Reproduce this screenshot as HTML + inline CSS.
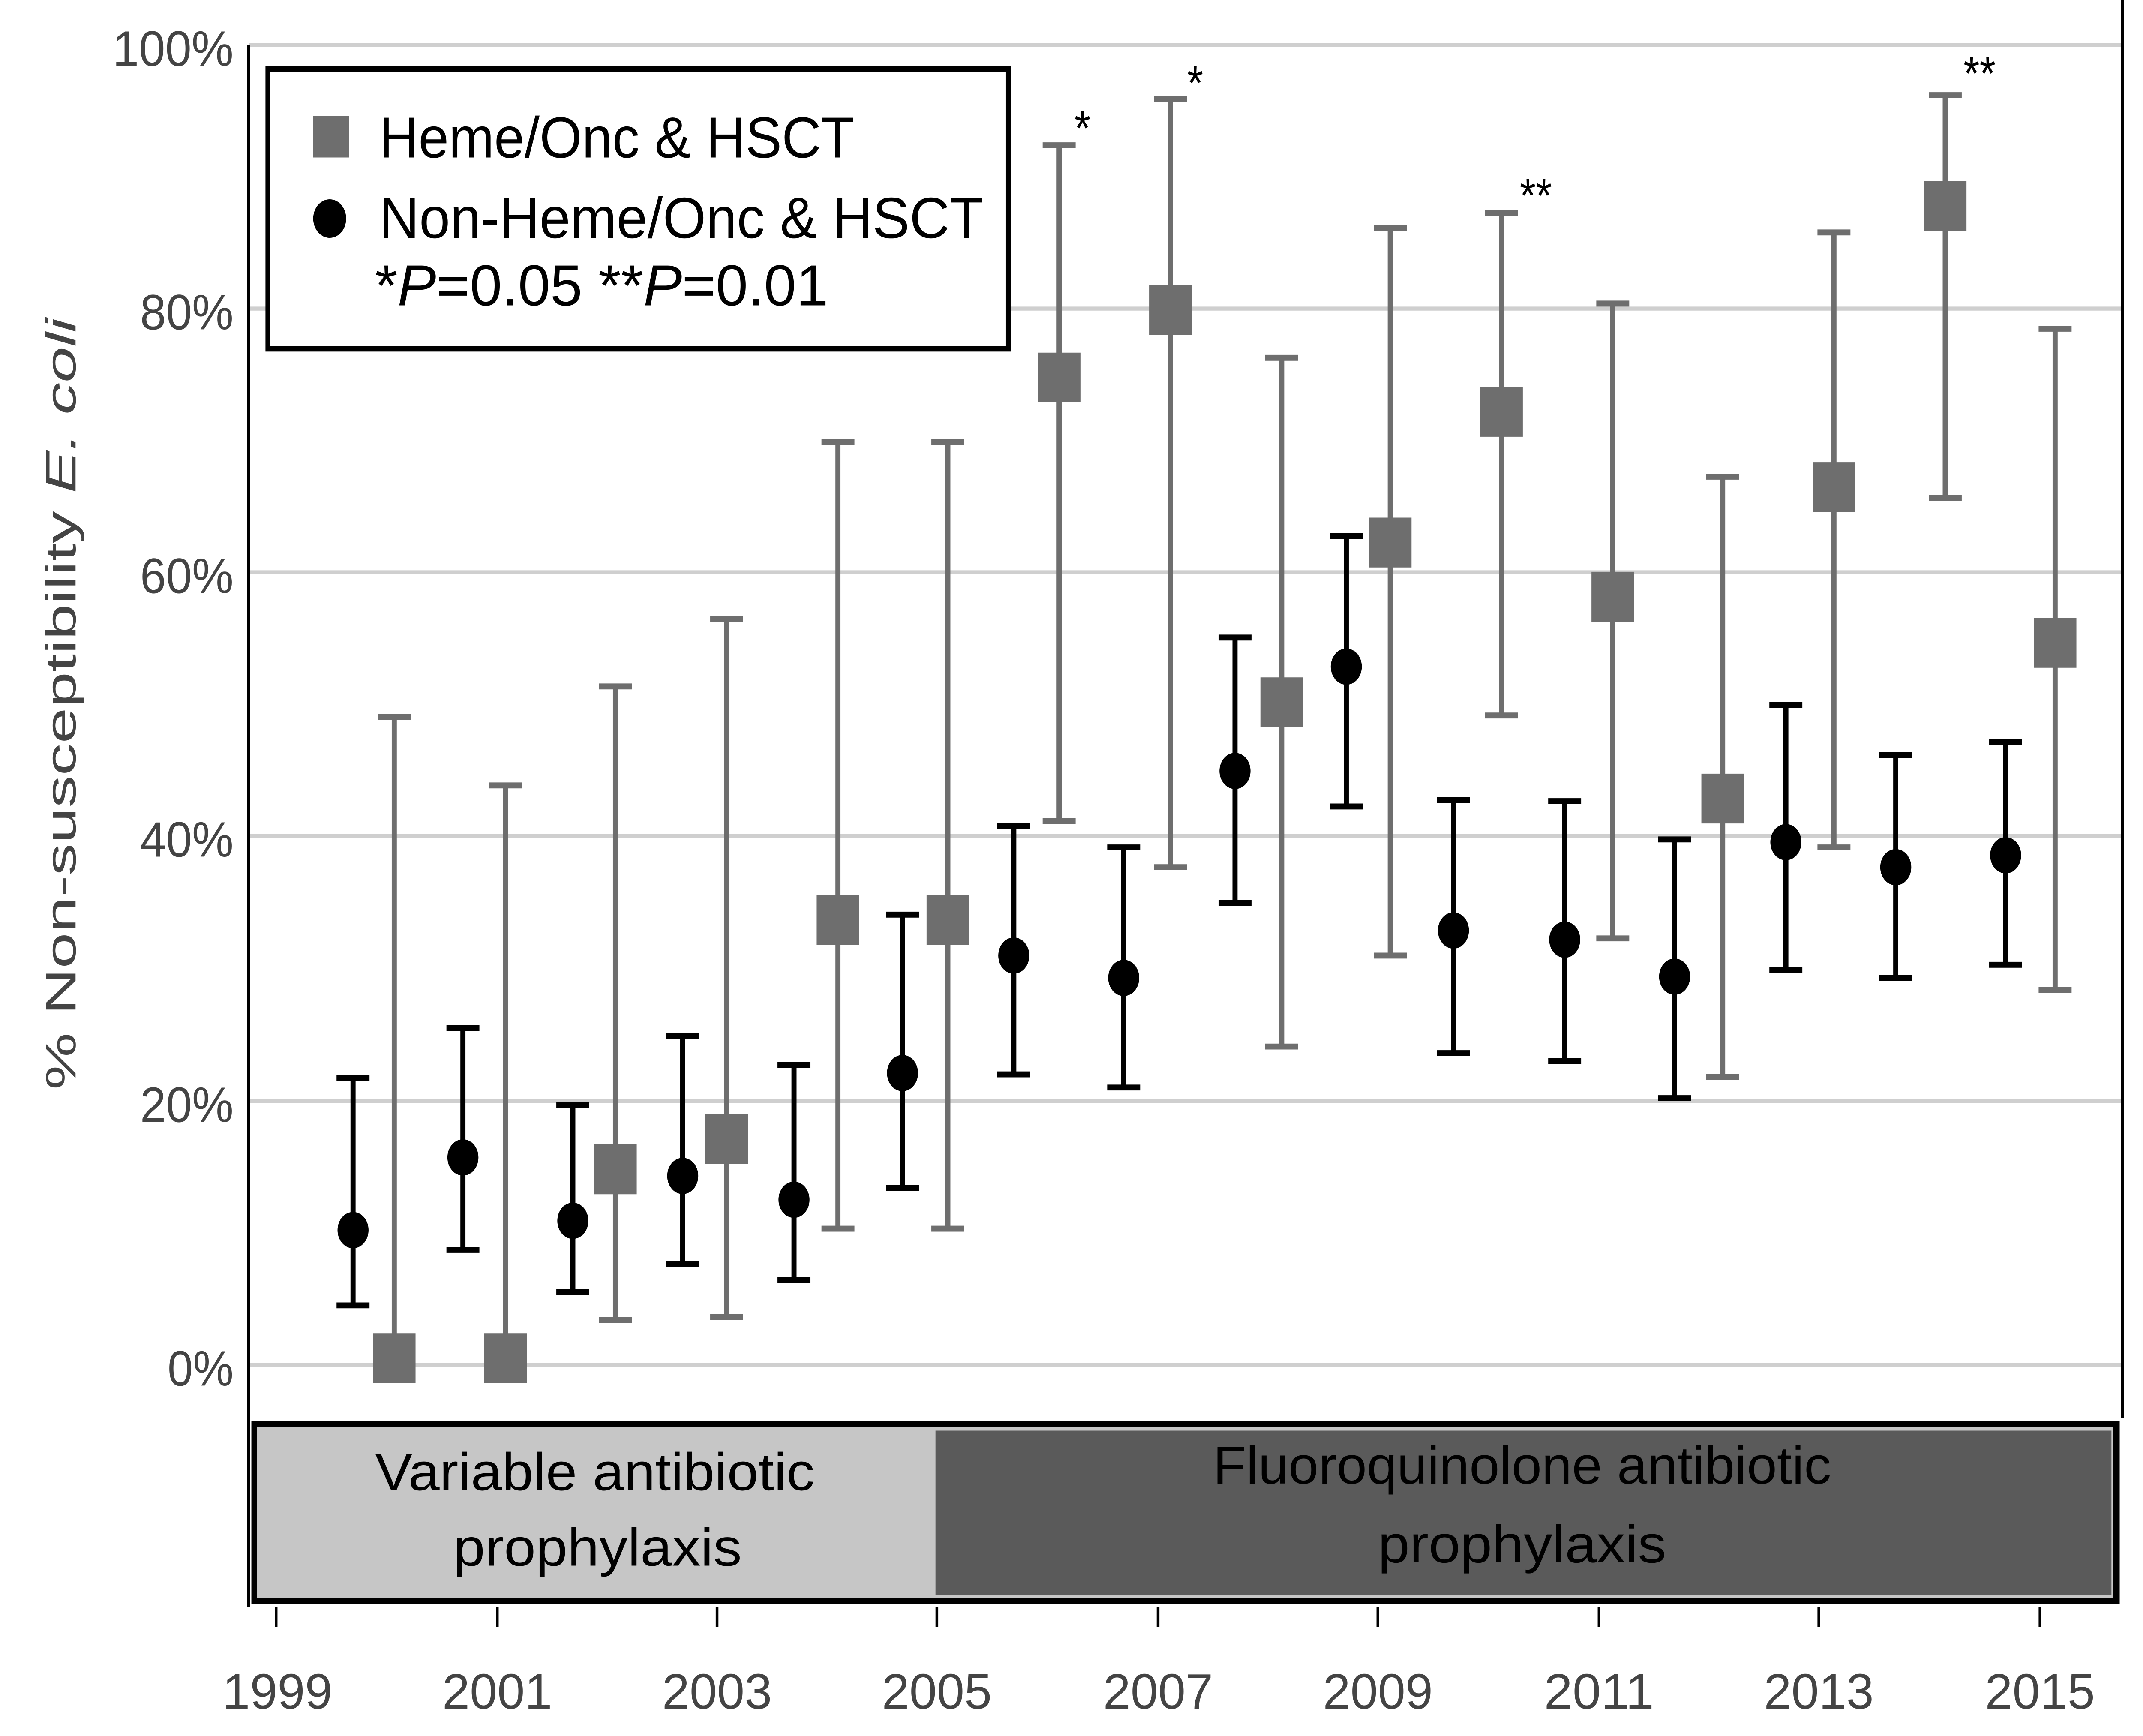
<!DOCTYPE html>
<html><head><meta charset="utf-8"><meta name="viewport" content="width=device-width, initial-scale=1"><style>html,body{margin:0;padding:0;background:#fff;width:100%;height:100%;overflow:hidden}svg{display:block;width:100vw;height:100vh}</style></head>
<body>
<svg viewBox="0 0 1560 1080" preserveAspectRatio="none" xmlns="http://www.w3.org/2000/svg" font-family="'Liberation Sans', sans-serif">
<rect width="1560" height="1080" fill="#fff"/>
<g stroke="#cfcfcf" stroke-width="2.5">
<line x1="181" x2="1545" y1="28" y2="28"/><line x1="181" x2="1545" y1="192" y2="192"/>
<line x1="181" x2="1545" y1="356" y2="356"/><line x1="181" x2="1545" y1="520" y2="520"/>
<line x1="181" x2="1545" y1="685" y2="685"/><line x1="181" x2="1545" y1="849" y2="849"/>
</g>
<line x1="181" y1="28" x2="181" y2="1000" stroke="#000" stroke-width="2"/>
<line x1="1545" y1="0" x2="1545" y2="882" stroke="#000" stroke-width="2"/>
<g fill="#444" font-size="31" text-anchor="end">
<text x="170" y="41" textLength="88" lengthAdjust="spacingAndGlyphs">100%</text>
<text x="170" y="205" textLength="68" lengthAdjust="spacingAndGlyphs">80%</text>
<text x="170" y="369" textLength="68" lengthAdjust="spacingAndGlyphs">60%</text>
<text x="170" y="533" textLength="68" lengthAdjust="spacingAndGlyphs">40%</text>
<text x="170" y="698" textLength="68" lengthAdjust="spacingAndGlyphs">20%</text>
<text x="170" y="862" textLength="48" lengthAdjust="spacingAndGlyphs">0%</text>
</g>
<text transform="translate(55,438) rotate(-90)" text-anchor="middle" fill="#444" font-size="31" textLength="480" lengthAdjust="spacingAndGlyphs">% Non-susceptibility <tspan font-style="italic">E. coli</tspan></text>
<rect x="183" y="884" width="1360" height="114" fill="#000"/>
<rect x="187" y="888" width="493" height="106" fill="#c6c6c6"/>
<rect x="680" y="888" width="858" height="106" fill="#c6c6c6"/>
<rect x="681" y="890" width="856" height="102" fill="#5a5a5a"/>
<g font-size="33" text-anchor="middle" fill="#000">
<text x="433" y="927" textLength="320" lengthAdjust="spacingAndGlyphs">Variable antibiotic</text>
<text x="435" y="974" textLength="210" lengthAdjust="spacingAndGlyphs">prophylaxis</text>
<text x="1108" y="923" textLength="450" lengthAdjust="spacingAndGlyphs">Fluoroquinolone antibiotic</text>
<text x="1108" y="972" textLength="210" lengthAdjust="spacingAndGlyphs">prophylaxis</text>
</g>
<g stroke="#000" stroke-width="2">
<line x1="201" x2="201" y1="1000" y2="1012"/><line x1="362" x2="362" y1="1000" y2="1012"/>
<line x1="522" x2="522" y1="1000" y2="1012"/><line x1="682" x2="682" y1="1000" y2="1012"/>
<line x1="843" x2="843" y1="1000" y2="1012"/><line x1="1003" x2="1003" y1="1000" y2="1012"/>
<line x1="1164" x2="1164" y1="1000" y2="1012"/><line x1="1324" x2="1324" y1="1000" y2="1012"/>
<line x1="1485" x2="1485" y1="1000" y2="1012"/>
</g>
<g fill="#444" font-size="31" text-anchor="middle">
<text x="202" y="1063" textLength="80" lengthAdjust="spacingAndGlyphs">1999</text>
<text x="362" y="1063" textLength="80" lengthAdjust="spacingAndGlyphs">2001</text>
<text x="522" y="1063" textLength="80" lengthAdjust="spacingAndGlyphs">2003</text>
<text x="682" y="1063" textLength="80" lengthAdjust="spacingAndGlyphs">2005</text>
<text x="843" y="1063" textLength="80" lengthAdjust="spacingAndGlyphs">2007</text>
<text x="1003" y="1063" textLength="80" lengthAdjust="spacingAndGlyphs">2009</text>
<text x="1164" y="1063" textLength="80" lengthAdjust="spacingAndGlyphs">2011</text>
<text x="1324" y="1063" textLength="80" lengthAdjust="spacingAndGlyphs">2013</text>
<text x="1485" y="1063" textLength="80" lengthAdjust="spacingAndGlyphs">2015</text>
</g>
<path fill="none" stroke="#6e6e6e" stroke-width="3.7" d="
M287 849V445.9 M275 445.9h24
M368 849V488.6 M356 488.6h24
M448 821.1V427 M436 427h24 M436 821.1h24
M529 819.4V385.1 M517 385.1h24 M517 819.4h24
M610 764.4V275.1 M598 275.1h24 M598 764.4h24
M690 764.4V275.1 M678 275.1h24 M678 764.4h24
M771 510.7V90.4 M759 90.4h24 M759 510.7h24
M852 539.5V61.7 M840 61.7h24 M840 539.5h24
M933 651.1V222.6 M921 222.6h24 M921 651.1h24
M1012 594.5V142.1 M1000 142.1h24 M1000 594.5h24
M1093 445.1V132.3 M1081 132.3h24 M1081 445.1h24
M1174 583.8V188.9 M1162 188.9h24 M1162 583.8h24
M1254 670V296.5 M1242 296.5h24 M1242 670h24
M1335 527.2V144.6 M1323 144.6h24 M1323 527.2h24
M1416 309.6V59.2 M1404 59.2h24 M1404 309.6h24
M1496 615.8V204.5 M1484 204.5h24 M1484 615.8h24"/>
<g fill="#6e6e6e">
<rect x="271.5" y="829.4" width="31" height="31"/>
<rect x="352.5" y="829.4" width="31" height="31"/>
<rect x="432.5" y="712" width="31" height="31"/>
<rect x="513.5" y="693.1" width="31" height="31"/>
<rect x="594.5" y="556.8" width="31" height="31"/>
<rect x="674.5" y="556.8" width="31" height="31"/>
<rect x="755.5" y="219.4" width="31" height="31"/>
<rect x="836.5" y="177.5" width="31" height="31"/>
<rect x="917.5" y="421.4" width="31" height="31"/>
<rect x="996.5" y="322" width="31" height="31"/>
<rect x="1077.5" y="240.7" width="31" height="31"/>
<rect x="1158.5" y="355.7" width="31" height="31"/>
<rect x="1238.5" y="481.3" width="31" height="31"/>
<rect x="1319.5" y="287.5" width="31" height="31"/>
<rect x="1400.5" y="112.7" width="31" height="31"/>
<rect x="1480.5" y="384.4" width="31" height="31"/>
</g>
<path fill="none" stroke="#000" stroke-width="3.7" d="
M257 812.1V670.8 M245 670.8h24 M245 812.1h24
M337 777.6V639.6 M325 639.6h24 M325 777.6h24
M417 803.8V687.3 M405 687.3h24 M405 803.8h24
M497 786.6V644.6 M485 644.6h24 M485 786.6h24
M578 796.5V662.6 M566 662.6h24 M566 796.5h24
M657 739V569 M645 569h24 M645 739h24
M738 668.4V514 M726 514h24 M726 668.4h24
M818 676.6V527.2 M806 527.2h24 M806 676.6h24
M899 561.7V396.6 M887 396.6h24 M887 561.7h24
M980 501.7V333.4 M968 333.4h24 M968 501.7h24
M1058 655.2V497.6 M1046 497.6h24 M1046 655.2h24
M1139 660.2V498.4 M1127 498.4h24 M1127 660.2h24
M1219 683.2V522.2 M1207 522.2h24 M1207 683.2h24
M1300 603.5V438.5 M1288 438.5h24 M1288 603.5h24
M1380 608.4V469.7 M1368 469.7h24 M1368 608.4h24
M1460 600.2V461.5 M1448 461.5h24 M1448 600.2h24"/>
<g fill="#000">
<circle cx="257" cy="765.3" r="11.3"/><circle cx="337" cy="720.1" r="11.3"/>
<circle cx="417" cy="759.5" r="11.3"/><circle cx="497" cy="731.6" r="11.3"/>
<circle cx="578" cy="746.4" r="11.3"/><circle cx="657" cy="667.6" r="11.3"/>
<circle cx="738" cy="594.5" r="11.3"/><circle cx="818" cy="608.4" r="11.3"/>
<circle cx="899" cy="479.6" r="11.3"/><circle cx="980" cy="414.7" r="11.3"/>
<circle cx="1058" cy="578.9" r="11.3"/><circle cx="1139" cy="584.6" r="11.3"/>
<circle cx="1219" cy="607.6" r="11.3"/><circle cx="1300" cy="523.9" r="11.3"/>
<circle cx="1380" cy="539.5" r="11.3"/><circle cx="1460" cy="532.1" r="11.3"/>
</g>
<rect x="195" y="43" width="539" height="174" fill="#fff" stroke="#000" stroke-width="3.5"/>
<rect x="228" y="72" width="26" height="26" fill="#6e6e6e"/>
<circle cx="240" cy="136" r="12" fill="#000"/>
<g font-size="36" fill="#000">
<text x="276" y="98" textLength="346" lengthAdjust="spacingAndGlyphs">Heme/Onc &amp; HSCT</text>
<text x="276" y="148" textLength="440" lengthAdjust="spacingAndGlyphs">Non-Heme/Onc &amp; HSCT</text>
<text x="273" y="190" textLength="330" lengthAdjust="spacingAndGlyphs">*<tspan font-style="italic">P</tspan>=0.05 **<tspan font-style="italic">P</tspan>=0.01</text>
</g>
<g font-size="30" fill="#000" text-anchor="middle">
<text x="788" y="90">*</text><text x="870" y="62">*</text>
<text x="1118" y="132">**</text><text x="1441" y="56">**</text>
</g>
</svg>
</body></html>
